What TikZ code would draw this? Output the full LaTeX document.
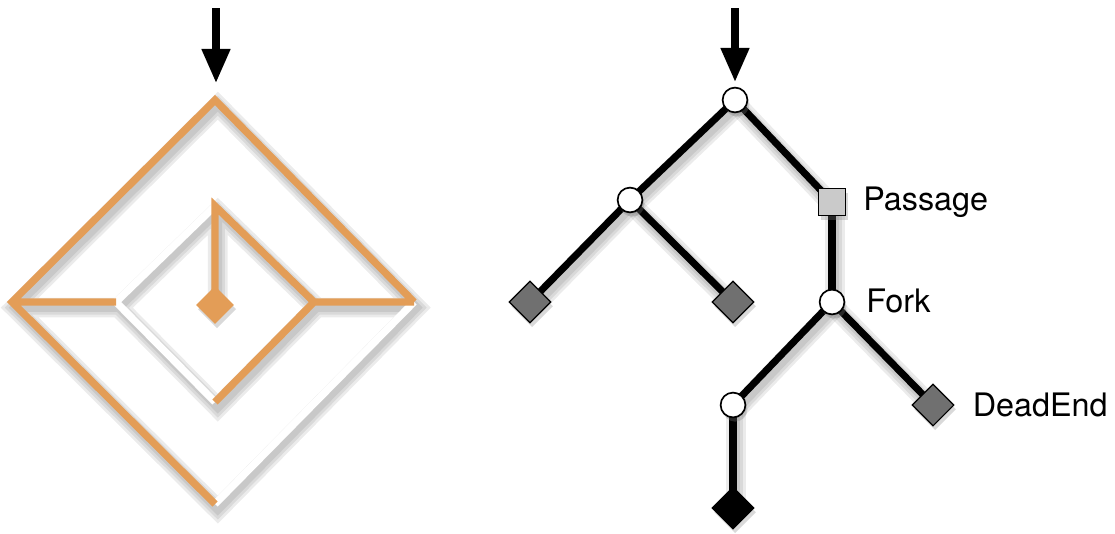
\documentclass[tikz,border=0pt]{standalone}
\usepackage{fontspec}
\setmainfont{TeX Gyre Heros}
\usepackage{tikz}
\usetikzlibrary{arrows.meta,positioning,shapes.geometric,shadows,backgrounds}
\definecolor{mazeorange}{HTML}{E39D57}
\definecolor{leafgray}{HTML}{707070}
\definecolor{passgray}{HTML}{CACACA}
\tikzset{
  wall/.style={line width=5.2pt,line join=miter},
  wallshadow/.style={black,opacity=.08,line width=#1,transform canvas={shift={(2pt,-4pt)}}},
  nodeshadow/.style={drop shadow={opacity=.3,shadow xshift=1.5pt,shadow yshift=-3pt}},
  junction/.style={circle,draw,fill=white,line width=1.2pt,minimum size=0.62cm,inner sep=0pt,nodeshadow},
  leaf/.style={diamond,draw,fill=#1,line width=0.8pt,minimum size=1.05cm,inner sep=0pt,nodeshadow},
  passage/.style={rectangle,draw,fill=passgray,line width=0.8pt,minimum size=0.68cm,inner sep=0pt,nodeshadow},
  tag/.style={inner sep=0pt,font=\fontsize{23}{27}\selectfont},
  entry/.style={-{Triangle[length=0.85cm,width=0.68cm]},line width=5pt}
}

\begin{document}
\begin{tikzpicture}[x=0.025cm,y=-0.025cm]
  \useasboundingbox (0,0) rectangle (1115,533);

  % maze
  \coordinate (ot) at (215,100); \coordinate (ol) at (12,302);
  \coordinate (or) at (414,302); \coordinate (ob) at (215,504);
  \coordinate (it) at (215,206); \coordinate (il) at (116,302);
  \coordinate (ir) at (314,302); \coordinate (ib) at (215,402);
  \coordinate (mid) at (215,305);
  \foreach \w in {14pt,10pt,6pt}{
    \draw[wallshadow=\w] (ot)--(or)--(ob)--(ol)--cycle (it)--(ir)--(ib)--(il)--cycle
      (ol)--(il) (ir)--(or) (it)--(mid);}
  \draw[wall,white] (or)--(ob) (il)--(it) (il)--(ib);
  \draw[wall,mazeorange] (ob)--(ol)--(ot)--(or) (ol)--(il) (ir)--(or)
    (mid)--(it)--(ir)--(ib);
  \node[diamond,fill=mazeorange,minimum size=0.95cm,inner sep=0pt,nodeshadow] (centre) at (mid) {};
  \coordinate (mazein) at (216,8);
  \draw[entry] (mazein)--(216,83);

  % tree
  \node[junction] (root) at (735,100) {};
  \node[junction] (split) at (630,200) {};
  \node[leaf=leafgray] (leafa) at (530,302) {};
  \node[leaf=leafgray] (leafb) at (733,302) {};
  \node[passage] (pass) at (832,202) {};
  \node[junction] (fork) at (832,302) {};
  \node[leaf=leafgray] (dead) at (933,405) {};
  \node[junction] (turn) at (733,405) {};
  \node[leaf=black] (goal) at (733,508) {};
  \node[tag,right=0.42cm of pass] (passlbl) {Passage};
  \node[tag,right=0.52cm of fork,yshift=1pt] (forklbl) {Fork};
  \node[tag,right=0.45cm of dead] (deadlbl) {DeadEnd};
  \begin{scope}[on background layer]
    \foreach \w in {14pt,10pt,6pt}{
      \foreach \a/\b in {root/split,root/pass,split/leafa,split/leafb,pass/fork,fork/turn,fork/dead,turn/goal}
        \draw[wallshadow=\w] (\a.center)--(\b.center);}
    \foreach \a/\b in {root/split,root/pass,split/leafa,split/leafb,pass/fork,fork/turn,fork/dead,turn/goal}
      \draw[line width=5pt] (\a.center)--(\b.center);
  \end{scope}
  \coordinate (treein) at (735,8);
  \draw[entry,shorten >=0.12cm] (treein)--(root.north);
\end{tikzpicture}
\end{document}
